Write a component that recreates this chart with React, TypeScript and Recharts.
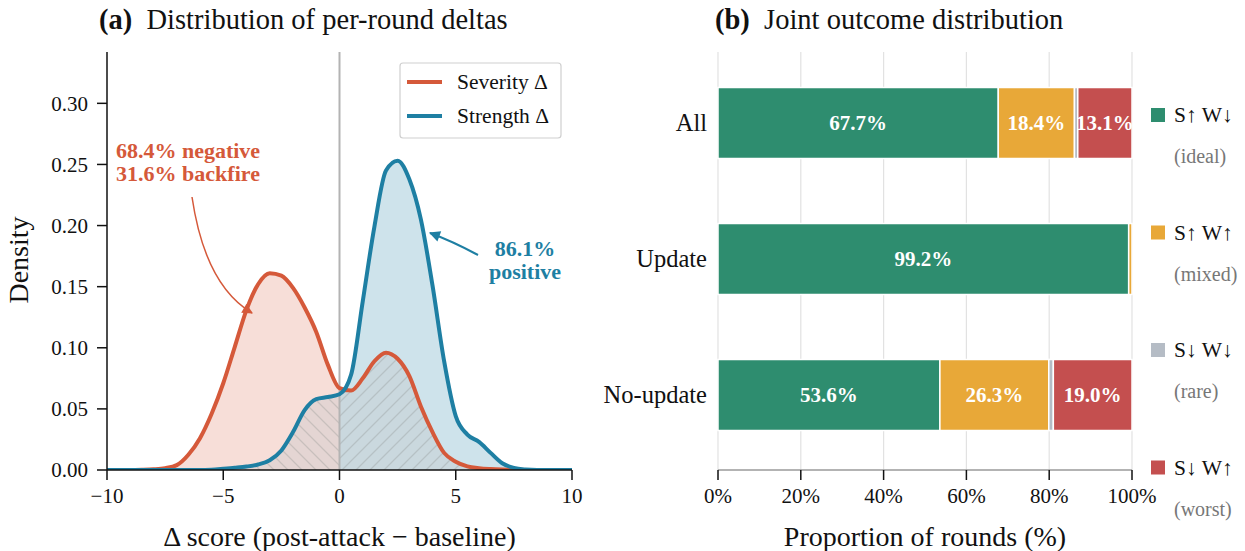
import {
  ComposedChart,
  Area,
  Line,
  XAxis,
  YAxis,
  ReferenceLine,
  BarChart,
  Bar,
  CartesianGrid,
  LabelList,
} from 'recharts';

// ---- panel (a): density of per-round deltas ----
const deltaX = [
  -10, -9.5, -9, -8.5, -8, -7.5, -7, -6.5, -6, -5.5, -5, -4.5, -4, -3.5, -3, -2.5, -2, -1.5, -1, -0.5,
  0, 0.5, 1, 1.5, 2, 2.5, 3, 3.5, 4, 4.5, 5, 5.5, 6, 6.5, 7, 7.5, 8, 8.5, 9, 9.5, 10,
];
const severity = [
  0, 0, 0, 0.0002, 0.0006, 0.0015, 0.004, 0.0125, 0.026, 0.046, 0.071, 0.101, 0.131, 0.152, 0.161, 0.159,
  0.149, 0.133, 0.113, 0.086, 0.067, 0.065, 0.075, 0.089, 0.096, 0.091, 0.077, 0.052, 0.031, 0.014, 0.0068,
  0.003, 0.0015, 0.0008, 0.0004, 0.0002, 0, 0, 0, 0, 0,
];
const strength = [
  0, 0, 0, 0, 0, 0, 0, 0, 0, 0.0003, 0.001, 0.0018, 0.0028, 0.0045, 0.008, 0.016, 0.031, 0.049, 0.058,
  0.0597, 0.062, 0.078, 0.138, 0.199, 0.245, 0.253, 0.238, 0.205, 0.151, 0.089, 0.044, 0.029, 0.023, 0.014,
  0.0055, 0.0017, 0.0004, 0, 0, 0, 0,
];
const densityTicks = [0, 0.05, 0.1, 0.15, 0.2, 0.25, 0.3];
const deltaTicks = [-10, -5, 0, 5, 10];

// ---- panel (b): joint outcome distribution ----
const groups = ['All', 'Update', 'No-update'];
const ideal = [67.7, 99.2, 53.6];
const mixed = [18.4, 0.8, 26.3];
const rare = [0.8, 0, 1.1];
const worst = [13.1, 0, 19.0];
const pctTicks = [0, 20, 40, 60, 80, 100];
const outcomeKeys = ['ideal', 'mixed', 'rare', 'worst'];
const outcomeLabels = ['S↑ W↓', 'S↑ W↑', 'S↓ W↓', 'S↓ W↑'];
const outcomeNotes = ['(ideal)', '(mixed)', '(rare)', '(worst)'];

const RED = '#D5593A';
const BLUE = '#1E7FA3';
const outcomeColors = ['#2E8D6F', '#E8A838', '#B5BCC5', '#C44F4F'];
const FONT = "'Liberation Serif', 'Times New Roman', serif";

const densityData = deltaX.map((x, i) => {
  const overlap = Math.min(severity[i], strength[i]);
  return {
    x,
    severity: severity[i],
    strength: strength[i],
    overlapNeg: x <= 0 ? overlap : null,
    overlapPos: x >= 0 ? overlap : null,
  };
});

const outcomeData = groups.map((g, i) => ({
  group: g,
  ideal: ideal[i],
  mixed: mixed[i],
  rare: rare[i],
  worst: worst[i],
}));

const fmtDelta = (v: number) => (v < 0 ? '\u2212' + Math.abs(v) : String(v));

const barLabel = (props: any) => {
  const { x, y, width, height, value } = props;
  if (value == null || value < 5) return null;
  return (
    <text
      x={x + width / 2}
      y={y + height / 2}
      textAnchor="middle"
      dominantBaseline="central"
      fill="#fff"
      fontWeight="bold"
      fontSize={21}
      fontFamily={FONT}
    >
      {value.toFixed(1)}%
    </text>
  );
};

const tickStyle = { fontSize: 21, fill: '#111', fontFamily: FONT };

export default function App() {
  return (
    <div style={{ position: 'absolute', left: 0, top: 0, width: 1245, height: 551, background: '#fff', fontFamily: FONT }}>
      <svg width={0} height={0} style={{ position: 'absolute' }}>
        <defs>
          <pattern id="hatchNeg" patternUnits="userSpaceOnUse" width={14} height={14}>
            <rect width={14} height={14} fill="#f6ddd7" fillOpacity={0.6} />
            <path d="M0,0 L14,14 M-3.5,10.5 L3.5,17.5 M10.5,-3.5 L17.5,3.5" stroke="rgba(140,140,140,0.3)" strokeWidth={1.3} />
          </pattern>
          <pattern id="hatchPos" patternUnits="userSpaceOnUse" width={14} height={14}>
            <rect width={14} height={14} fill="#cbe2ea" fillOpacity={0.6} />
            <path d="M0,14 L14,0 M-3.5,3.5 L3.5,-3.5 M10.5,17.5 L17.5,10.5" stroke="rgba(140,140,140,0.3)" strokeWidth={1.3} />
          </pattern>
        </defs>
      </svg>

      <div style={{ position: 'absolute', left: 0, top: 0 }}>
        <ComposedChart width={600} height={551} data={densityData} margin={{ top: 52, right: 28, bottom: 41, left: 7 }}>
          <XAxis
            dataKey="x"
            type="number"
            domain={[-10, 10]}
            ticks={deltaTicks}
            tickFormatter={fmtDelta}
            allowDataOverflow
            height={40}
            axisLine={{ stroke: '#111', strokeWidth: 1.5 }}
            tickLine={{ stroke: '#111', strokeWidth: 1.5 }}
            tickSize={10}
            tickMargin={8}
            tick={tickStyle}
          />
          <YAxis
            type="number"
            domain={[0, 0.342]}
            ticks={densityTicks}
            tickFormatter={(v: number) => v.toFixed(2)}
            allowDataOverflow
            width={100}
            axisLine={{ stroke: '#111', strokeWidth: 1.5 }}
            tickLine={{ stroke: '#111', strokeWidth: 1.5 }}
            tickSize={10}
            tickMargin={9}
            tick={tickStyle}
          />
          <Area dataKey="severity" type="monotone" stroke="none" fill={RED} fillOpacity={0.2} isAnimationActive={false} />
          <Area dataKey="strength" type="monotone" stroke="none" fill={BLUE} fillOpacity={0.22} isAnimationActive={false} />
          <Area dataKey="overlapNeg" type="monotone" stroke="none" fill="url(#hatchNeg)" fillOpacity={1} isAnimationActive={false} />
          <Area dataKey="overlapPos" type="monotone" stroke="none" fill="url(#hatchPos)" fillOpacity={1} isAnimationActive={false} />
          <ReferenceLine x={0} stroke="#b3b3b3" strokeWidth={2} />
          <Line dataKey="severity" type="monotone" stroke={RED} strokeWidth={4} dot={false} isAnimationActive={false} />
          <Line dataKey="strength" type="monotone" stroke={BLUE} strokeWidth={4} dot={false} isAnimationActive={false} />
        </ComposedChart>
      </div>

      <div style={{ position: 'absolute', left: 600, top: 0 }}>
        <BarChart
          layout="vertical"
          width={645}
          height={551}
          data={outcomeData}
          margin={{ top: 52, right: 113, bottom: 41, left: 0 }}
          barSize={71}
        >
          <CartesianGrid horizontal={false} stroke="#e2e2e2" strokeWidth={1.2} />
          <XAxis
            type="number"
            domain={[0, 100]}
            ticks={pctTicks}
            tickFormatter={(v: number) => v + '%'}
            height={40}
            axisLine={{ stroke: '#9a9a9a', strokeWidth: 1.5 }}
            tickLine={{ stroke: '#111', strokeWidth: 1.5 }}
            tickSize={10}
            tickMargin={8}
            tick={tickStyle}
          />
          <YAxis
            type="category"
            dataKey="group"
            width={118}
            axisLine={false}
            tickLine={false}
            tickSize={0}
            tickMargin={11}
            padding={{ top: 2.5, bottom: 7.5 }}
            tick={{ ...tickStyle, fontSize: 24.5 }}
          />
          {outcomeKeys.map((k, i) => (
            <Bar key={k} dataKey={k} stackId="a" fill={outcomeColors[i]} stroke="#fff" strokeWidth={1.5} isAnimationActive={false}>
              <LabelList dataKey={k} content={barLabel} />
            </Bar>
          ))}
        </BarChart>
      </div>

      <svg width={1245} height={551} style={{ position: 'absolute', left: 0, top: 0, pointerEvents: 'none' }} fontFamily={FONT}>
        <defs>
          <marker id="arrRed" viewBox="0 0 10 10" refX={9} refY={5} markerWidth={8} markerHeight={7} orient="auto">
            <path d="M0,0 L10,5 L0,10 z" fill={RED} />
          </marker>
          <marker id="arrBlue" viewBox="0 0 10 10" refX={9} refY={5} markerWidth={6} markerHeight={5.5} orient="auto">
            <path d="M0,0 L10,5 L0,10 z" fill={BLUE} />
          </marker>
        </defs>

        {/* titles */}
        <text x={99} y={29} fontSize={28.5} fill="#111">
          <tspan fontWeight="bold">(a)</tspan>
          <tspan>{'\u00a0 Distribution of per-round deltas'}</tspan>
        </text>
        <text x={715} y={29} fontSize={28.5} fill="#111">
          <tspan fontWeight="bold">(b)</tspan>
          <tspan>{'\u00a0 Joint outcome distribution'}</tspan>
        </text>

        {/* axis labels */}
        <text x={339.5} y={546} fontSize={28} textAnchor="middle" fill="#111">
          Δ score (post-attack − baseline)
        </text>
        <text x={925} y={546} fontSize={28} textAnchor="middle" fill="#111">
          Proportion of rounds (%)
        </text>
        <text transform="translate(28,260) rotate(-90)" fontSize={28} textAnchor="middle" fill="#111">
          Density
        </text>

        {/* legend (a) */}
        <rect x={400} y={63} width={161} height={75} rx={3} fill="rgba(255,255,255,0.85)" stroke="#cfcfcf" strokeWidth={1.2} />
        <line x1={407} x2={442} y1={82} y2={82} stroke={RED} strokeWidth={4} />
        <text x={457} y={89} fontSize={21.5} fill="#111">Severity Δ</text>
        <line x1={407} x2={442} y1={116} y2={116} stroke={BLUE} strokeWidth={4} />
        <text x={457} y={123} fontSize={21.5} fill="#111">Strength Δ</text>

        {/* annotations (a) */}
        <text x={188} y={158} fontSize={22} fontWeight="bold" fill={RED} textAnchor="middle">68.4% negative</text>
        <text x={188} y={181} fontSize={22} fontWeight="bold" fill={RED} textAnchor="middle">31.6% backfire</text>
        <path d="M192,197 Q205,285 252,313" fill="none" stroke={RED} strokeWidth={1.5} markerEnd="url(#arrRed)" />
        <text x={525} y={256} fontSize={22} fontWeight="bold" fill={BLUE} textAnchor="middle">86.1%</text>
        <text x={525} y={279} fontSize={22} fontWeight="bold" fill={BLUE} textAnchor="middle">positive</text>
        <path d="M478,255 Q452,241 430,233" fill="none" stroke={BLUE} strokeWidth={2} markerEnd="url(#arrBlue)" />

        {/* legend (b) */}
        {outcomeLabels.map((lab, i) => {
          const cy = 115 + i * 117.5;
          return (
            <g key={lab}>
              <rect x={1151} y={cy - 7} width={14} height={14} fill={outcomeColors[i]} />
              <text x={1174} y={cy + 7} fontSize={21.5} fill="#111">{lab}</text>
              <text x={1174} y={cy + 48} fontSize={20} fill="#777">{outcomeNotes[i]}</text>
            </g>
          );
        })}
      </svg>
    </div>
  );
}
